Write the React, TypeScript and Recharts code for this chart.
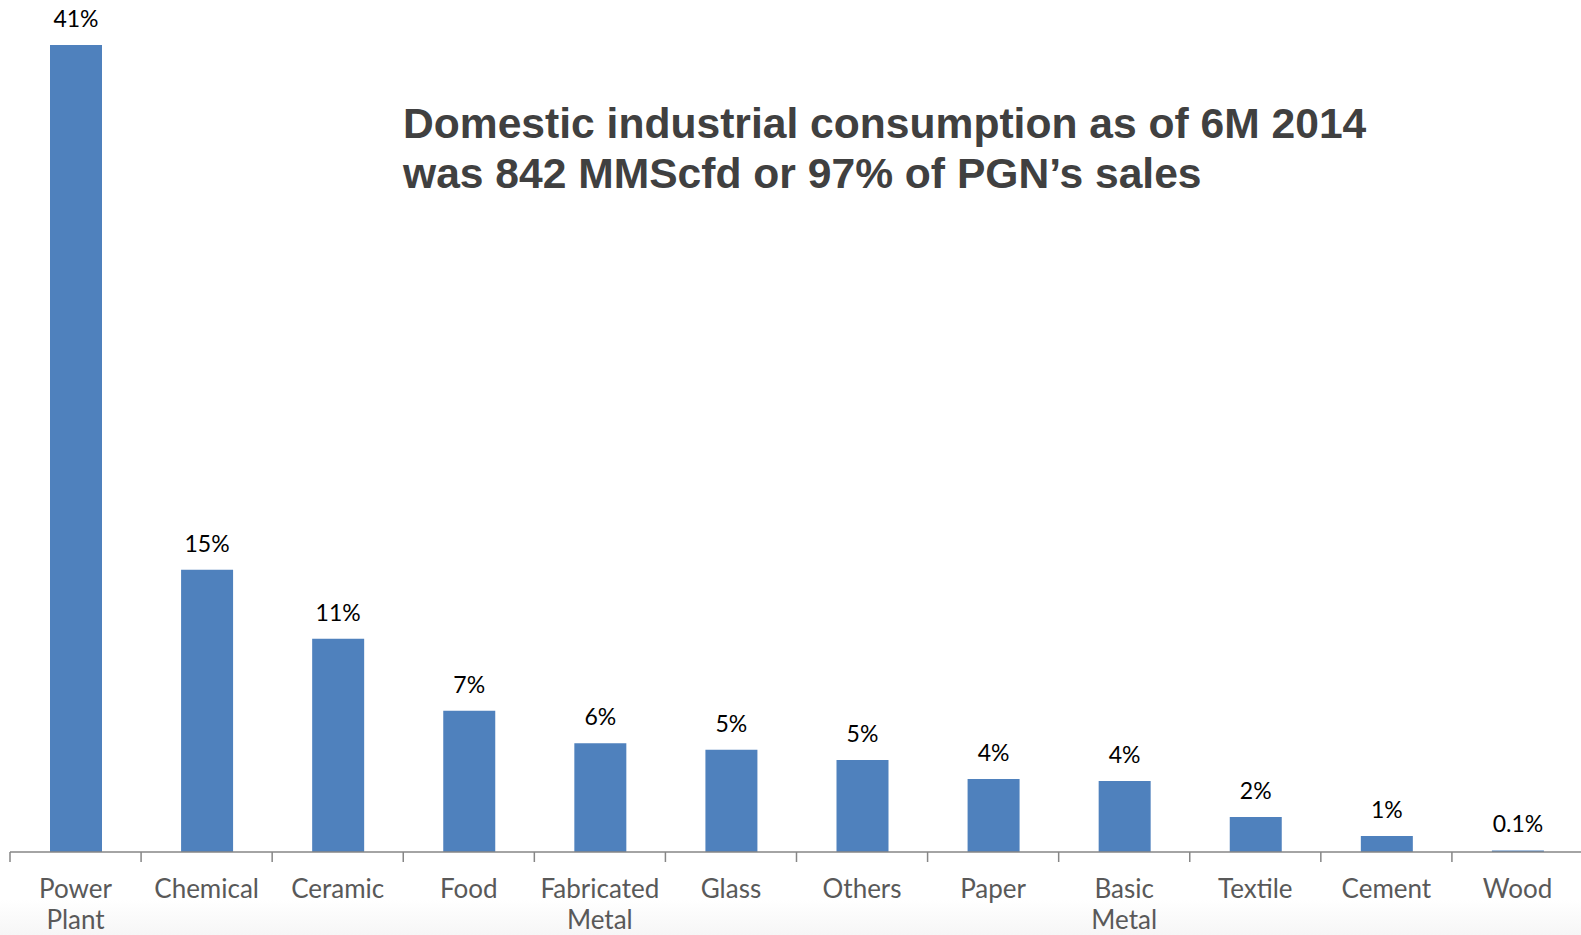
import { BarChart, Bar, XAxis, YAxis, LabelList } from 'recharts';

const categories = [
  'Power Plant',
  'Chemical',
  'Ceramic',
  'Food',
  'Fabricated Metal',
  'Glass',
  'Others',
  'Paper',
  'Basic Metal',
  'Textile',
  'Cement',
  'Wood',
];
const shares = [41, 14.34, 10.83, 7.17, 5.53, 5.19, 4.68, 3.71, 3.61, 1.78, 0.81, 0.08];
const shareLabels = ['41%', '15%', '11%', '7%', '6%', '5%', '5%', '4%', '4%', '2%', '1%', '0.1%'];

const data = categories.map((name, i) => ({ name, value: shares[i], label: shareLabels[i] }));

const CHART_W = 1584;
const CHART_H = 935;
const MARGIN = { top: 45, right: 1, bottom: 0, left: 10 };
const BAND = (CHART_W - MARGIN.left - MARGIN.right) / categories.length;
const FONT = 'Lato, "Open Sans", sans-serif';

// category label with a tick mark on the left band edge
function CategoryTick(props: any) {
  const { x, y, payload } = props;
  const words = String(payload.value).split(' ');
  return (
    <g>
      <line x1={x - BAND / 2} x2={x - BAND / 2} y1={y} y2={y + 10} stroke="#868686" strokeWidth={1.5} />
      <text x={x} y={y} textAnchor="middle" fill="#595959" fontSize={26} fontFamily={FONT}>
        {words.map((w, i) => (
          <tspan key={i} x={x} dy={i === 0 ? 46 : 31}>
            {w}
          </tspan>
        ))}
      </text>
    </g>
  );
}

function ValueLabel(props: any) {
  const { x, y, width, value } = props;
  return (
    <text x={x + width / 2} y={y - 18} textAnchor="middle" fill="#000" fontSize={23} fontFamily={FONT}>
      {value}
    </text>
  );
}

export default function App() {
  return (
    <div
      style={{
        position: 'absolute',
        left: 0,
        top: 0,
        width: 1581,
        height: 935,
        overflow: 'hidden',
        background: 'linear-gradient(to bottom, #ffffff 0px, #ffffff 900px, #f6f6f6 935px)',
      }}
    >
      <BarChart width={CHART_W} height={CHART_H} data={data} margin={MARGIN} barSize={52}>
        <XAxis
          dataKey="name"
          interval={0}
          height={83}
          tickLine={false}
          tickSize={0}
          tickMargin={0}
          axisLine={{ stroke: '#868686', strokeWidth: 1.5 }}
          tick={<CategoryTick />}
        />
        <YAxis hide domain={[0, 41]} />
        <Bar dataKey="value" fill="#4F81BD" isAnimationActive={false}>
          <LabelList dataKey="label" content={<ValueLabel />} />
        </Bar>
      </BarChart>
      <div
        style={{
          position: 'absolute',
          left: 403,
          top: 98,
          fontFamily: '"Liberation Sans", Arial, sans-serif',
          fontWeight: 'bold',
          fontSize: 42.6,
          lineHeight: '50px',
          color: '#404040',
          whiteSpace: 'nowrap',
        }}
      >
        Domestic industrial consumption as of 6M 2014
        <br />
        was 842 MMScfd or 97% of PGN’s sales
      </div>
    </div>
  );
}
